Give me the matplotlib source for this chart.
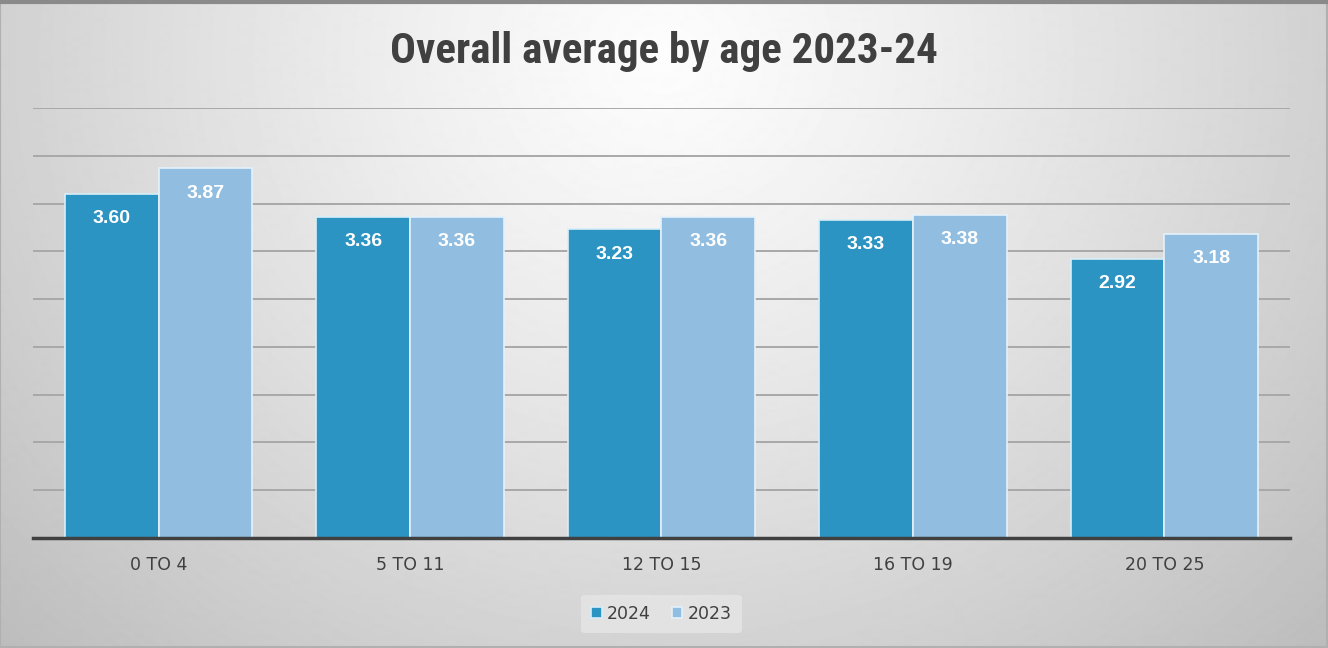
import numpy as np
import matplotlib.pyplot as plt
from matplotlib.patches import Rectangle

# data
ages = ['0 TO 4', '5 TO 11', '12 TO 15', '16 TO 19', '20 TO 25']
avg_2024 = [3.60, 3.36, 3.23, 3.33, 2.92]
avg_2023 = [3.87, 3.36, 3.36, 3.38, 3.18]
series_names = ['2024', '2023']

c2024 = '#2b94c2'
c2023 = '#91bee0'

fig = plt.figure(figsize=(13.28, 6.48), dpi=100)

# soft radial gradient background
bg = fig.add_axes([0, 0, 1, 1], zorder=-5)
yy, xx = np.mgrid[0:648, 0:1328]
d = np.sqrt(((xx - 664) / 760.0) ** 2 + ((yy - 60) / 700.0) ** 2)
shade = np.clip(0.99 - 0.2 * d ** 1.2, 0, 1)
bg.imshow(shade, cmap='gray', vmin=0, vmax=1, aspect='auto', interpolation='bilinear')
bg.add_patch(Rectangle((0, 0), 1327, 647, fill=False, edgecolor='#b0b0b0', lw=1.5))
bg.plot([0, 1327], [1.5, 1.5], color='#8a8a8a', lw=3)
bg.set_xlim(0, 1328)
bg.set_ylim(648, 0)
bg.set_axis_off()

ax = fig.add_axes([0.0248, 0.1698, 0.9466, 0.6636])
ax.patch.set_alpha(0)

x = np.arange(len(ages))
w = 0.373
b1 = ax.bar(x - w / 2, avg_2024, w, color=c2024, edgecolor='#d8eef8', lw=1.2, label=series_names[0], zorder=3)
b2 = ax.bar(x + w / 2, avg_2023, w, color=c2023, edgecolor='#e4f1fa', lw=1.2, label=series_names[1], zorder=3)

for bars, vals in ((b1, avg_2024), (b2, avg_2023)):
    for r, v in zip(bars, vals):
        ax.text(r.get_x() + r.get_width() / 2, v - 0.26, '%.2f' % v, ha='center', va='center',
                color='white', fontsize=14, fontweight='bold', family='Liberation Sans', zorder=4)

ax.set_xlim(-0.5, len(ages) - 0.5)
ax.set_ylim(0, 4.5)
ax.set_yticks(np.arange(0.5, 4.51, 0.5))
ax.yaxis.grid(True, color='#a8a8a8', lw=1.4, zorder=0)
ax.tick_params(axis='y', left=False, labelleft=False)
ax.tick_params(axis='x', length=0, pad=13, labelsize=12.5, labelcolor='#404040')
ax.set_xticks(x)
ax.set_xticklabels(ages)
for s in ['top', 'right', 'left']:
    ax.spines[s].set_visible(False)
ax.spines['bottom'].set_color('#404040')
ax.spines['bottom'].set_linewidth(2.5)
ax.spines['bottom'].set_zorder(5)

fig.text(0.5, 0.92, 'Overall average by age 2023-24', ha='center', va='center',
         fontsize=31, fontweight='bold', color='#404040',
         family=['Liberation Sans Narrow', 'Roboto Condensed', 'Open Sans Condensed', 'Liberation Sans'])

leg = ax.legend(loc='center', bbox_to_anchor=(0.5, -0.177), ncol=2, frameon=True,
                fontsize=12.5, handlelength=0.6, handleheight=0.6, handletextpad=0.3,
                columnspacing=1.2, borderpad=0.6)
leg.get_frame().set_facecolor('#e6e6e6')
leg.get_frame().set_edgecolor('none')
leg.get_frame().set_alpha(0.8)
for t in leg.get_texts():
    t.set_color('#404040')

fig.savefig('out.png', dpi=100)
